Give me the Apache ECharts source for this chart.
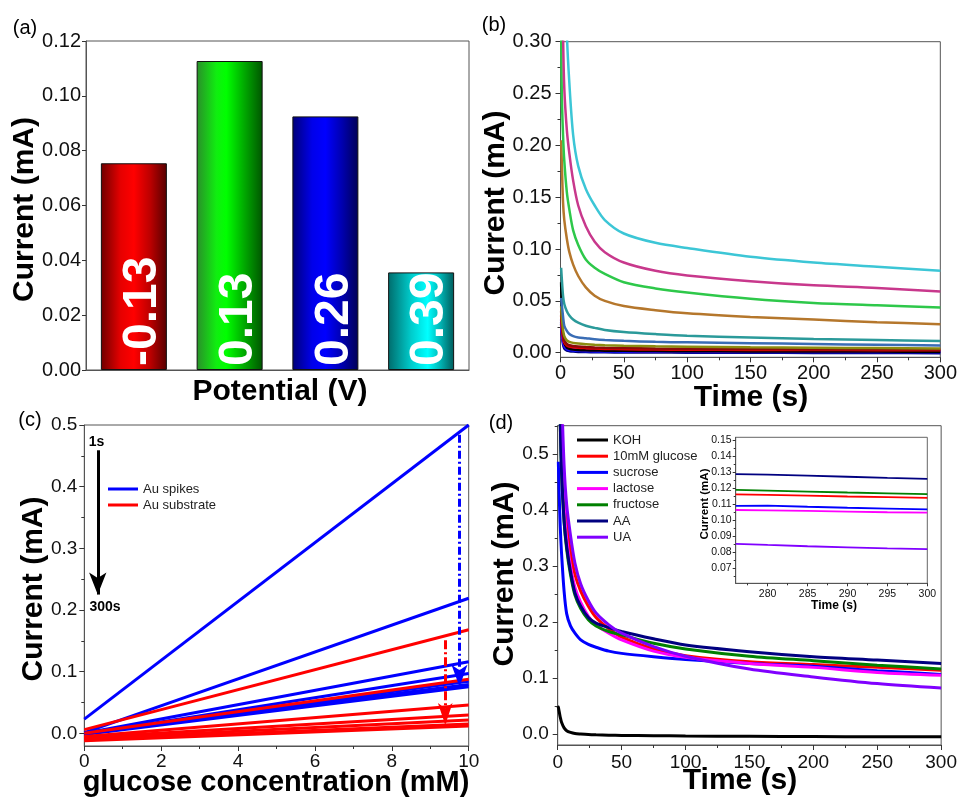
<!DOCTYPE html>
<html><head><meta charset="utf-8">
<script src="https://cdn.jsdelivr.net/npm/echarts@6/dist/echarts.min.js"></script>
<style>html,body{margin:0;padding:0;background:#fff}#c{width:960px;height:803px}</style>
</head><body><div id="c"></div>
<script>
// ---------- (a) ----------
const potentials = ['-0.13', '0.13', '0.26', '0.39'];
const barCurrents = [0.0754, 0.1127, 0.0925, 0.0356];
const aYTicks = [0, 0.02, 0.04, 0.06, 0.08, 0.10, 0.12];

// ---------- (b) ----------
const tB = [0.5, 1, 2, 3, 5, 7, 10, 14, 20, 27, 35, 50, 75, 100, 150, 200, 250, 300];
const bNavy   = [0.028, 0.018, 0.008, 0.004, 0.002, 0.0015, 0.0011, 0.0008, 0.0006, 0.0005, 0.0004, 0.0003, 0.0002, 0.0001, 0.0, -0.0002, -0.0003, -0.0004];
const bBlue   = [0.030, 0.020, 0.010, 0.006, 0.0035, 0.0027, 0.0022, 0.0018, 0.0015, 0.0013, 0.0012, 0.0010, 0.0009, 0.0008, 0.0007, 0.0007, 0.0006, 0.0006];
const bPurple = [0.032, 0.022, 0.012, 0.008, 0.005, 0.004, 0.0034, 0.0030, 0.0026, 0.0023, 0.0021, 0.0019, 0.0017, 0.0016, 0.0014, 0.0013, 0.0012, 0.0012];
const bBlack  = [0.068, 0.040, 0.016, 0.009, 0.005, 0.0038, 0.0030, 0.0026, 0.0023, 0.0021, 0.0020, 0.0018, 0.0016, 0.0015, 0.0013, 0.0012, 0.0011, 0.0010];
const bRed    = [0.036, 0.026, 0.015, 0.010, 0.007, 0.006, 0.0053, 0.0048, 0.0044, 0.0040, 0.0037, 0.0034, 0.0031, 0.0029, 0.0027, 0.0026, 0.0025, 0.0024];
const bWine   = [0.040, 0.030, 0.018, 0.012, 0.0085, 0.0072, 0.0065, 0.0060, 0.0055, 0.0051, 0.0048, 0.0045, 0.0041, 0.0038, 0.0036, 0.0034, 0.0033, 0.0032];
const bOlive  = [0.045, 0.035, 0.022, 0.016, 0.012, 0.0105, 0.0095, 0.0088, 0.0082, 0.0077, 0.0073, 0.0068, 0.0062, 0.0058, 0.0052, 0.0048, 0.0045, 0.0042];
const bSteel  = [0.053, 0.047, 0.035, 0.026, 0.021, 0.018, 0.016, 0.0148, 0.014, 0.013, 0.0123, 0.0115, 0.0105, 0.0100, 0.0092, 0.0084, 0.0077, 0.0071];
const bTeal   = [0.082, 0.072, 0.055, 0.047, 0.040, 0.036, 0.032, 0.029, 0.026, 0.024, 0.022, 0.020, 0.018, 0.0164, 0.0147, 0.0132, 0.0122, 0.0113];
const bBrown  = [0.205, 0.185, 0.145, 0.128, 0.110, 0.097, 0.085, 0.074, 0.063, 0.055, 0.050, 0.045, 0.041, 0.038, 0.0345, 0.032, 0.0295, 0.0274];
const bGreen  = [0.320, 0.250, 0.210, 0.185, 0.155, 0.138, 0.118, 0.104, 0.090, 0.082, 0.076, 0.068, 0.062, 0.058, 0.052, 0.048, 0.0457, 0.0437];
const bMagenta= [0.600, 0.450, 0.310, 0.255, 0.215, 0.192, 0.166, 0.142, 0.122, 0.107, 0.097, 0.087, 0.079, 0.0745, 0.069, 0.065, 0.0625, 0.059];
const bCyan   = [2.000, 1.200, 0.700, 0.500, 0.310, 0.260, 0.210, 0.180, 0.158, 0.142, 0.128, 0.115, 0.106, 0.101, 0.0925, 0.087, 0.083, 0.079];
const bXTicks = [0, 50, 100, 150, 200, 250, 300];
const bYTicks = [0, 0.05, 0.10, 0.15, 0.20, 0.25, 0.30];

// ---------- (c) ----------
const cConc = [0, 10];
const spikeStart = [0.023, 0.001, 0.000, -0.001, 0.000, 0.001, -0.002];
const spikeEnd   = [0.500, 0.219, 0.116, 0.097, 0.0845, 0.079, 0.0755];
const substrateStart = [0.006, 0.000, -0.005, -0.007, -0.009, -0.011, -0.012];
const substrateEnd   = [0.168, 0.0875, 0.046, 0.0297, 0.0216, 0.015, 0.0118];
const cTimeArrow = [[0.35, 0.459], [0.35, 0.225]];
const cSpikeArrow = [[9.76, 0.484], [9.76, 0.0756]];
const cSubArrow = [[9.39, 0.151], [9.39, 0.0135]];
const cTimeLabels = [{name: '1s', coord: [0.32, 0.472]}, {name: '300s', coord: [0.54, 0.204]}];
const cXTicks = [0, 2, 4, 6, 8, 10];
const cYTicks = [0, 0.1, 0.2, 0.3, 0.4, 0.5];

// ---------- (d) ----------
const tD = [0, 0.5, 1, 2, 3, 5, 7, 10, 13.5, 18, 24, 30, 40, 50, 75, 100, 150, 200, 250, 300];
const dKOH      = [0.050, 0.048, 0.042, 0.030, 0.021, 0.011, 0.006, 0.003, 0.001, 0.000, -0.001, -0.0015, -0.002, -0.0025, -0.003, -0.0035, -0.004, -0.0045, -0.005, -0.005];
const dGlucose  = [null, 1.10, 0.85, 0.65, 0.54, 0.43, 0.375, 0.325, 0.285, 0.255, 0.228, 0.208, 0.188, 0.173, 0.152, 0.140, 0.129, 0.124, 0.119, 0.114];
const dSucrose  = [null, 0.486, 0.44, 0.37, 0.323, 0.255, 0.215, 0.193, 0.180, 0.168, 0.160, 0.155, 0.148, 0.144, 0.138, 0.133, 0.126, 0.121, 0.113, 0.1065];
const dLactose  = [null, 1.05, 0.80, 0.62, 0.52, 0.41, 0.350, 0.300, 0.262, 0.235, 0.210, 0.195, 0.180, 0.168, 0.148, 0.137, 0.126, 0.119, 0.110, 0.1048];
const dFructose = [null, 1.00, 0.75, 0.56, 0.47, 0.38, 0.330, 0.285, 0.248, 0.224, 0.204, 0.193, 0.183, 0.177, 0.162, 0.152, 0.139, 0.131, 0.123, 0.1163];
const dAA       = [null, 1.00, 0.75, 0.56, 0.47, 0.38, 0.335, 0.290, 0.252, 0.228, 0.208, 0.198, 0.190, 0.183, 0.170, 0.159, 0.147, 0.138, 0.132, 0.1258];
const dUA       = [null, 1.20, 0.95, 0.75, 0.62, 0.48, 0.410, 0.355, 0.305, 0.268, 0.238, 0.216, 0.195, 0.180, 0.156, 0.139, 0.116, 0.102, 0.090, 0.082];
const dNames = ['KOH', '10mM glucose', 'sucrose', 'lactose', 'fructose', 'AA', 'UA'];
const dXTicks = [0, 50, 100, 150, 200, 250, 300];
const dYTicks = [0, 0.1, 0.2, 0.3, 0.4, 0.5];

// ---------- (d) inset ----------
const tIn = [276, 280, 285, 290, 295, 300];
const inGlucose  = [0.1161, 0.1158, 0.1153, 0.1148, 0.1144, 0.1140];
const inSucrose  = [0.1089, 0.1091, 0.1084, 0.1078, 0.1073, 0.1068];
const inLactose  = [0.1064, 0.1062, 0.1058, 0.1054, 0.1050, 0.1047];
const inFructose = [0.1189, 0.1185, 0.1179, 0.1173, 0.1168, 0.1163];
const inAA       = [0.1288, 0.1284, 0.1278, 0.1271, 0.1264, 0.1258];
const inUA       = [0.0853, 0.0846, 0.0838, 0.0831, 0.0825, 0.0820];
const inXTicks = [280, 285, 290, 295, 300];
const inYTicks = [0.07, 0.08, 0.09, 0.10, 0.11, 0.12, 0.13, 0.14, 0.15];

// ================= build =================
const FONT = '"Liberation Sans", Arial, Helvetica, sans-serif';
const pairs = (xs, ys) => xs.map((x, i) => [x, ys[i]]);
const halfSteps = (ticks, lo, hi) => {
  const step = ticks[1] - ticks[0]; const out = [];
  for (let v = ticks[0] - step / 2; v < hi + 1e-9; v += step) if (v > lo - 1e-9) out.push(+v.toFixed(6));
  return out;
};

const xAxes = [], yAxes = [];
function valAxes(list, grid, pos, min, max, major, minor, fmt, fs, margin, tickLen) {
  list.push({
    type: 'value', gridIndex: grid, position: pos, offset: 0, min, max,
    axisLine: {show: true, onZero: false, lineStyle: {color: '#555', width: 1}},
    axisTick: {show: true, inside: false, length: tickLen, customValues: major, lineStyle: {color: '#333', width: 1}},
    axisLabel: {show: true, customValues: major, formatter: fmt, fontSize: fs, margin, color: '#111', fontFamily: FONT},
    splitLine: {show: false}, minorTick: {show: false}
  });
  const mainIdx = list.length - 1;
  if (minor && minor.length) {
    list.push({
      type: 'value', gridIndex: grid, position: pos, offset: 0, min, max,
      axisLine: {show: false, onZero: false},
      axisTick: {show: true, inside: false, length: Math.max(2, Math.round(tickLen * 0.55)), customValues: minor, lineStyle: {color: '#333', width: 1}},
      axisLabel: {show: false}, splitLine: {show: false}
    });
  }
  return mainIdx;
}
const f2 = v => v.toFixed(2), f1 = v => v.toFixed(1), f0 = v => String(Math.round(v));

// grids
const grids = [
  {left: 86, right: 491, top: 41, bottom: 433, show: true, borderColor: '#555', borderWidth: 1},
  {left: 560.5, right: 17.3, top: 41.7, bottom: 445.7, show: true, borderColor: '#555', borderWidth: 1},
  {left: 84.3, right: 491.3, top: 425, bottom: 57, show: true, borderColor: '#555', borderWidth: 1},
  {left: 557.7, right: 16.7, top: 425.7, bottom: 58, show: true, borderColor: '#555', borderWidth: 1},
  {left: 735.7, right: 32.7, top: 437.3, bottom: 219.7, show: true, borderColor: '#666', borderWidth: 1, backgroundColor: '#fff'}
];

// (a)
xAxes.push({type: 'category', gridIndex: 0, data: potentials, position: 'bottom',
  axisLine: {show: true, lineStyle: {color: '#555'}}, axisTick: {show: false}, axisLabel: {show: false}, splitLine: {show: false}});
const axA = 0;
const ayA = valAxes(yAxes, 0, 'left', 0, 0.12, aYTicks, null, f2, 20, 5, 4);
// (b)
const axB = valAxes(xAxes, 1, 'bottom', 0, 300, bXTicks, halfSteps(bXTicks, 0, 300), f0, 20, 6, 5);
const ayB = valAxes(yAxes, 1, 'left', -0.0044, 0.30, bYTicks, halfSteps(bYTicks, -0.0044, 0.30), f2, 20, 9, 5);
// (c)
const axC = valAxes(xAxes, 2, 'bottom', 0, 10, cXTicks, halfSteps(cXTicks, 0, 10), f0, 19, 6, 5);
const ayC = valAxes(yAxes, 2, 'left', -0.0206, 0.5, cYTicks, halfSteps(cYTicks, -0.0206, 0.5), f1, 19, 7, 5);
// (d)
const axD = valAxes(xAxes, 3, 'bottom', 0, 300, dXTicks, halfSteps(dXTicks, 0, 300), f0, 19, 8, 5);
const ayD = valAxes(yAxes, 3, 'left', -0.0196, 0.5505, dYTicks, halfSteps(dYTicks, -0.0196, 0.5505), f1, 19, 9, 5);
// inset
const axI = valAxes(xAxes, 4, 'bottom', 276, 300, inXTicks, halfSteps(inXTicks, 276, 300), f0, 10.5, 5, 3);
const ayI = valAxes(yAxes, 4, 'left', 0.0607, 0.1517, inYTicks, halfSteps(inYTicks, 0.0607, 0.1517), f2, 10.5, 4, 3);

const grad = stops => ({type: 'linear', x: 0, y: 0, x2: 1, y2: 0, colorStops: stops.map(s => ({offset: s[0], color: s[1]}))});
const barFills = [
  grad([[0, '#6e0000'], [0.3, '#e60000'], [0.5, '#ff0000'], [0.75, '#bb0000'], [1, '#560000']]),
  grad([[0, '#2a8f2a'], [0.3, '#10ee10'], [0.45, '#00ff00'], [0.72, '#00aa00'], [1, '#005500']]),
  grad([[0, '#000078'], [0.3, '#0000ea'], [0.5, '#0000ff'], [0.75, '#0000b0'], [1, '#000056']]),
  grad([[0, '#006c6c'], [0.35, '#00cccc'], [0.6, '#00ffff'], [0.8, '#00b0b0'], [1, '#005a5a']])
];

const series = [];
series.push({
  type: 'bar', xAxisIndex: axA, yAxisIndex: ayA, barWidth: 66,
  data: barCurrents.map((v, i) => ({value: v, itemStyle: {color: barFills[i], borderColor: '#111', borderWidth: 1}})),
  label: {show: true, position: 'insideBottom', rotate: 90, align: 'left', verticalAlign: 'middle', distance: 4,
    offset: [0, 9], formatter: p => potentials[p.dataIndex], color: '#fff', fontSize: 48, fontWeight: 'bold', fontFamily: FONT}
});

const lineS = (name, xi, yi, data, color, width, smooth) => ({
  type: 'line', name, xAxisIndex: xi, yAxisIndex: yi, data, symbol: 'none', showSymbol: false,
  smooth: smooth === undefined ? 0.3 : smooth, clip: true,
  lineStyle: {color, width}, itemStyle: {color}, emphasis: {disabled: true}
});

// (b) curves
[
  [bNavy, '#000080'], [bBlue, '#1010ff'], [bPurple, '#8a00ff'], [bBlack, '#000000'], [bRed, '#e00000'],
  [bWine, '#8b0a0a'], [bOlive, '#8c8c10'], [bSteel, '#3a6db5'], [bTeal, '#2b9a9a'], [bBrown, '#b5772c'],
  [bGreen, '#2ec84a'], [bMagenta, '#c8388c'], [bCyan, '#3cc6d6']
].forEach((c, i) => series.push(lineS('b' + i, axB, ayB, pairs(tB, c[0]), c[1], 2.5)));

// (c) lines
spikeStart.forEach((s, i) => series.push(lineS('Au spikes', axC, ayC, pairs(cConc, [s, spikeEnd[i]]), '#0000ff', 3, false)));
substrateStart.forEach((s, i) => series.push(lineS('Au substrate', axC, ayC, pairs(cConc, [s, substrateEnd[i]]), '#ff0000', 3, false)));
// (c) arrows + annotations
series.push({
  type: 'line', name: 'arrows', xAxisIndex: axC, yAxisIndex: ayC, data: [], symbol: 'none', silent: true,
  markLine: {
    silent: true, symbol: ['none', 'arrow'], symbolSize: [12, 22], label: {show: false}, emphasis: {disabled: true},
    data: [
      [{coord: cTimeArrow[0], lineStyle: {color: '#000', width: 3, type: 'solid'}}, {coord: cTimeArrow[1], symbolSize: [13, 22]}],
      [{coord: cSpikeArrow[0], lineStyle: {color: '#0000ff', width: 3, type: [8, 3, 2, 3]}}, {coord: cSpikeArrow[1], symbolSize: [12, 22]}],
      [{coord: cSubArrow[0], lineStyle: {color: '#ff0000', width: 3, type: [9, 3, 2, 3]}}, {coord: cSubArrow[1], symbolSize: [11, 22]}]
    ]
  },
  markPoint: {
    silent: true, symbol: 'circle', symbolSize: 1, itemStyle: {color: 'rgba(0,0,0,0)'},
    label: {show: true, position: 'inside', formatter: p => p.name, color: '#000', fontSize: 14, fontWeight: 'bold', fontFamily: FONT},
    data: cTimeLabels
  }
});

// (d) main
const dColors = ['#000000', '#ff0000', '#0000ff', '#ff00ff', '#008000', '#000080', '#8000ff'];
[dKOH, dGlucose, dSucrose, dLactose, dFructose, dAA, dUA].forEach((arr, i) =>
  series.push(lineS(dNames[i], axD, ayD, pairs(tD, arr), dColors[i], 3)));
// inset
[[inGlucose, 1], [inSucrose, 2], [inLactose, 3], [inFructose, 4], [inAA, 5], [inUA, 6]].forEach(p =>
  series.push(lineS(dNames[p[1]], axI, ayI, pairs(tIn, p[0]), dColors[p[1]], 1.8, false)));

const T = (text, x, y, size, rot, weight) => ({
  type: 'text', x, y, rotation: rot ? Math.PI / 2 : 0, z: 100, silent: true,
  style: {text, fill: '#000', font: (weight || 'bold') + ' ' + size + 'px ' + FONT,
    textAlign: 'center', textVerticalAlign: 'middle', align: 'center', verticalAlign: 'middle'}
});

const option = {
  animation: false,
  backgroundColor: '#fff',
  textStyle: {fontFamily: FONT},
  grid: grids,
  xAxis: xAxes,
  yAxis: yAxes,
  legend: [
    {left: 108, top: 482, orient: 'vertical', padding: 0, itemWidth: 30, itemHeight: 3, itemGap: 2, icon: 'rect',
      selectedMode: false, textStyle: {fontSize: 13, lineHeight: 14, color: '#222', fontFamily: FONT},
      data: ['Au spikes', 'Au substrate']},
    {left: 577, top: 433, orient: 'vertical', padding: 0, itemWidth: 31, itemHeight: 3, itemGap: 2.2, icon: 'rect',
      selectedMode: false, textStyle: {fontSize: 13, lineHeight: 14, color: '#222', fontFamily: FONT},
      data: dNames}
  ],
  series,
  graphic: [
    T('(a)', 25, 28, 20, false, 'normal'),
    T('(b)', 494, 25, 20, false, 'normal'),
    T('(c)', 30, 420, 20, false, 'normal'),
    T('(d)', 501, 423, 20, false, 'normal'),
    T('Current (mA)', 24.5, 209.5, 30, true),
    T('Potential (V)', 280, 391.5, 30),
    T('Current (mA)', 495.8, 203, 30, true),
    T('Time (s)', 751, 397.5, 30),
    T('Current (mA)', 33.3, 589, 30, true),
    T('glucose concentration (mM)', 276, 783, 29),
    T('Current (mA)', 504.7, 574, 30, true),
    T('Time (s)', 740, 781, 30),
    T('Current (mA)', 704.5, 504, 11.5, true),
    T('Time (s)', 834, 606, 12)
  ]
};
const chart = echarts.init(document.getElementById('c'), null, {renderer: 'canvas'});
chart.setOption(option);
</script>
</body></html>
